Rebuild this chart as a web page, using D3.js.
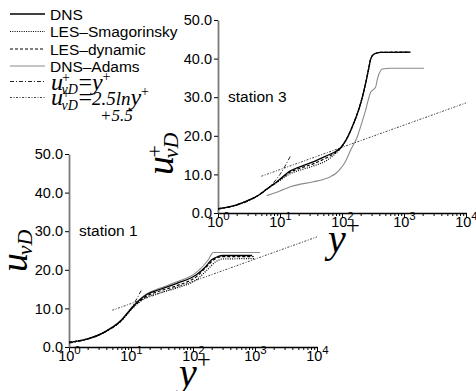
<!DOCTYPE html>
<html>
<head>
<meta charset="utf-8">
<script src="https://cdn.jsdelivr.net/npm/d3@7"></script>
<style>
  body { margin: 0; background: #fff; }
  text { font-family: "Liberation Sans", Arial, sans-serif; }
  .math { font-family: "Liberation Serif", "Times New Roman", serif; }
</style>
</head>
<body>
<svg id="chart" width="476" height="391"></svg>
<script>
// [y+, u+] pairs
const st1Dns = [[1,1.2],[2,2.1],[3.5,3.6],[5,5.1],[6.7,6.6],[8.5,8.5],[11,10.6],[14,12.3],[18,13.6],[29,14.9],[55,16.5],[115,18.8],[160,20.8],[200,22.6],[250,23.4],[300,23.7],[900,23.7]];
const st1Smag = [[1,1.2],[3.5,3.6],[6.7,6.5],[11,10.3],[18,12.9],[29,14.0],[55,15.3],[115,17.5],[170,20.0],[230,22.0],[300,22.8],[1000,22.9]];
const st1Dyn = [[1,1.2],[3.5,3.6],[6.7,6.6],[11,10.5],[18,13.2],[29,14.5],[55,15.9],[115,18.3],[170,21.0],[230,22.9],[300,23.4],[950,23.4]];
const st1Adams = [[2,2.1],[3.5,3.7],[6.7,6.8],[11,10.8],[18,13.8],[29,15.2],[55,16.9],[115,19.4],[177,22.6],[212,24.5],[1200,24.5]];

const st3Dns = [[1,1.1],[2,2.1],[3,3.2],[4.5,4.6],[6.1,6.2],[8.9,8.1],[14.7,10.9],[22,12.1],[35,13.3],[57.6,14.9],[80,16.0],[95,16.9],[115,18.8],[138,21.4],[170,25.0],[199,28.3],[240,33.5],[270,37.5],[290,39.9],[330,41.2],[418,41.6],[1260,41.7]];
const st3Dyn = [[1,1.1],[2,2.1],[3,3.2],[4.5,4.6],[6.1,6.2],[8.9,8.0],[14.7,10.6],[22,11.7],[35,12.8],[57.6,14.4],[80,15.8],[95,16.9],[115,18.8],[138,21.4],[170,25.0],[199,28.3],[240,33.5],[270,37.5],[290,39.9],[330,41.2],[418,41.6],[1260,41.7]];
const st3Smag = [[1,1.1],[2,2.1],[3,3.2],[4.5,4.6],[6.1,6.1],[8.9,7.9],[14.7,10.2],[22,11.2],[35,12.2],[57.6,13.7],[80,15.5],[95,16.7],[115,18.7],[138,21.3],[170,24.9],[199,28.2],[240,33.4],[270,37.4],[290,39.8],[330,41.2],[418,41.6],[1260,41.6]];
const st3Adams = [[6.1,4.5],[10,5.7],[14.7,6.8],[35,8.1],[50,8.7],[65,9.4],[80,10.3],[94.6,11.5],[115,13.5],[138,16.3],[176,19.7],[210,23.5],[240,26.6],[290,31.3],[348,32.6],[370,34.5],[395,36.0],[447,37.3],[600,37.5],[2110,37.5]];

const lawLin = [[1,1],[2,2],[4,4],[7,7],[10,10],[15,15]];
const lawLog = [[5,9.52],[10000,28.53]];

const decades = [1, 10, 100, 1000, 10000];
const exps = ['0', '1', '2', '3', '4'];
const uTicks = [0, 10, 20, 30, 40, 50];
const legendNames = ['DNS', 'LES\u2013Smagorinsky', 'LES\u2013dynamic', 'DNS\u2013Adams'];

const styles = {
  dns:   {stroke: '#000', width: 1.3, dash: null},
  smag:  {stroke: '#000', width: 1.2, dash: '1,1.3'},
  dyn:   {stroke: '#000', width: 1.2, dash: '3,2'},
  adams: {stroke: '#8a8a8a', width: 1.1, dash: null},
  lin:   {stroke: '#222', width: 1, dash: '4,2,1,2'},
  log:   {stroke: '#444', width: 1, dash: '2,1.5,1,1.5'}
};

const svg = d3.select('#chart');

// where each panel sits and where its rotated u-title goes
const panels = [
  {label: 'station 1', x0: 69, y0: 347, plus: false, titleX: 27, titleY: 272,
   series: {adams: st1Adams, log: lawLog, lin: lawLin, smag: st1Smag, dyn: st1Dyn, dns: st1Dns}},
  {label: 'station 3', x0: 218, y0: 213, plus: true, titleX: 173, titleY: 175,
   series: {adams: st3Adams, log: lawLog, lin: lawLin, smag: st3Smag, dyn: st3Dyn, dns: st3Dns}}
];

// u^+_{vD} with stacked super/subscript, returns width
function uvd(g, F, S, plus, subDrop) {
  g.append('text').attr('class', 'math').attr('font-size', F)
    .style('font-style', 'italic').text('u');
  if (plus) {
    g.append('text').attr('class', 'math').attr('font-size', S)
      .attr('x', 0.46 * F).attr('y', -0.3 * F).text('+');
  }
  let sub = g.append('text').attr('class', 'math').attr('font-size', S)
    .style('font-style', 'italic')
    .attr('x', 0.44 * F).attr('y', subDrop * F).text('vD');
  return 0.44 * F + sub.node().getComputedTextLength();
}

function drawPanel(p) {
  let x = d3.scaleLog().domain([1, 1e4]).range([p.x0, p.x0 + 248]);
  let y = d3.scaleLinear().domain([0, 50]).range([p.y0, p.y0 - 193]);
  let g = svg.append('g');

  let minor = [];
  for (let d of [1, 10, 100, 1000]) for (let k = 2; k < 10; k++) minor.push(d * k);

  g.append('g').attr('transform', `translate(0,${p.y0})`)
    .call(d3.axisBottom(x).tickValues(minor).tickSize(3).tickFormat(''))
    .call(a => a.select('.domain').remove());

  let xa = g.append('g').attr('transform', `translate(0,${p.y0})`)
    .call(d3.axisBottom(x).tickValues(decades).tickSize(5).tickSizeOuter(0).tickFormat(''));
  xa.select('.domain').attr('stroke', '#000').attr('stroke-width', 1.3);
  xa.selectAll('.tick').each(function(d, i) {
    let t = d3.select(this).append('text')
      .attr('y', 14).attr('dy', 0).attr('fill', '#000')
      .attr('text-anchor', 'middle')
      .style('font-size', '14.5px')
      .text('10');
    t.append('tspan').attr('dy', -7).style('font-size', '11.5px').text(exps[i]);
  });

  let ya = g.append('g').attr('transform', `translate(${p.x0},0)`)
    .call(d3.axisLeft(y).tickValues(uTicks).tickSize(4).tickSizeOuter(0)
      .tickPadding(2).tickFormat(d3.format('.1f')));
  ya.select('.domain').attr('stroke', '#7a7a7a').attr('stroke-width', 1.8);
  ya.selectAll('.tick text').attr('fill', '#000').style('font-size', '14.5px');

  let line = d3.line()
    .x(d => x(d[0]))
    .y(d => y(d[1]))
    .curve(d3.curveMonotoneX);

  for (let k of ['adams', 'log', 'lin', 'smag', 'dyn', 'dns']) {
    let s = styles[k];
    g.append('path')
      .datum(p.series[k])
      .attr('d', line)
      .attr('fill', 'none')
      .attr('stroke', s.stroke)
      .attr('stroke-width', s.width)
      .attr('stroke-dasharray', s.dash);
  }

  g.append('text')
    .attr('x', p.x0 + 10).attr('y', y(30) + 5)
    .style('font-size', '15.5px')
    .text(p.label);

  // y+ axis title
  let xt = g.append('text').attr('class', 'math')
    .attr('x', x(100) - 14).attr('y', p.y0 + (p.plus ? 39 : 39))
    .attr('font-size', 40).style('font-style', 'italic').text('y');
  xt.append('tspan').attr('dy', -18).attr('font-size', 25).style('font-style', 'normal').text('+');

  // u axis title, rotated
  let lg = g.append('g')
    .attr('transform', `translate(${p.titleX},${p.titleY}) rotate(-90)`);
  uvd(lg, 38, 22, p.plus, 0.14);
}

panels.forEach(drawPanel);

// legend
const rowY = [14, 31.5, 49, 66, 81.5, 97.5];
const legendKeys = ['dns', 'smag', 'dyn', 'adams', 'lin', 'log'];
let leg = svg.append('g');
legendKeys.forEach((k, i) => {
  let s = styles[k];
  leg.append('line')
    .attr('x1', 10).attr('x2', 45)
    .attr('y1', rowY[i]).attr('y2', rowY[i])
    .attr('stroke', s.stroke).attr('stroke-width', s.width)
    .attr('stroke-dasharray', s.dash);
  if (i < 4) {
    leg.append('text').attr('x', 50).attr('y', rowY[i] + 5.5)
      .style('font-size', '15.5px').text(legendNames[i]);
  }
});

function chain(g, x0, parts) {
  let cx = x0;
  for (let p of parts) {
    let t = g.append('text').attr('class', 'math')
      .attr('x', cx).attr('y', p.dy || 0)
      .attr('font-size', p.size)
      .style('font-style', p.italic ? 'italic' : 'normal')
      .text(p.t);
    cx += t.node().getComputedTextLength() + (p.gap || 0);
  }
  return cx;
}

let r5 = leg.append('g').attr('transform', 'translate(51,89.5)');
let w5 = uvd(r5, 24, 14, true, 0.2);
chain(r5, w5 + 0.5, [
  {t: '=', size: 24},
  {t: 'y', size: 24, italic: true},
  {t: '+', size: 14, dy: -9}
]);

let r6 = leg.append('g').attr('transform', 'translate(51,105)');
let w6 = uvd(r6, 24, 14, true, 0.2);
chain(r6, w6 + 0.5, [
  {t: '=', size: 24},
  {t: '2.5ln', size: 19, italic: true},
  {t: 'y', size: 24, italic: true},
  {t: '+', size: 14, dy: -9}
]);
r6.append('text').attr('class', 'math')
  .attr('x', 49).attr('y', 16)
  .attr('font-size', 17).style('font-style', 'italic')
  .text('+5.5');
</script>
</body>
</html>
